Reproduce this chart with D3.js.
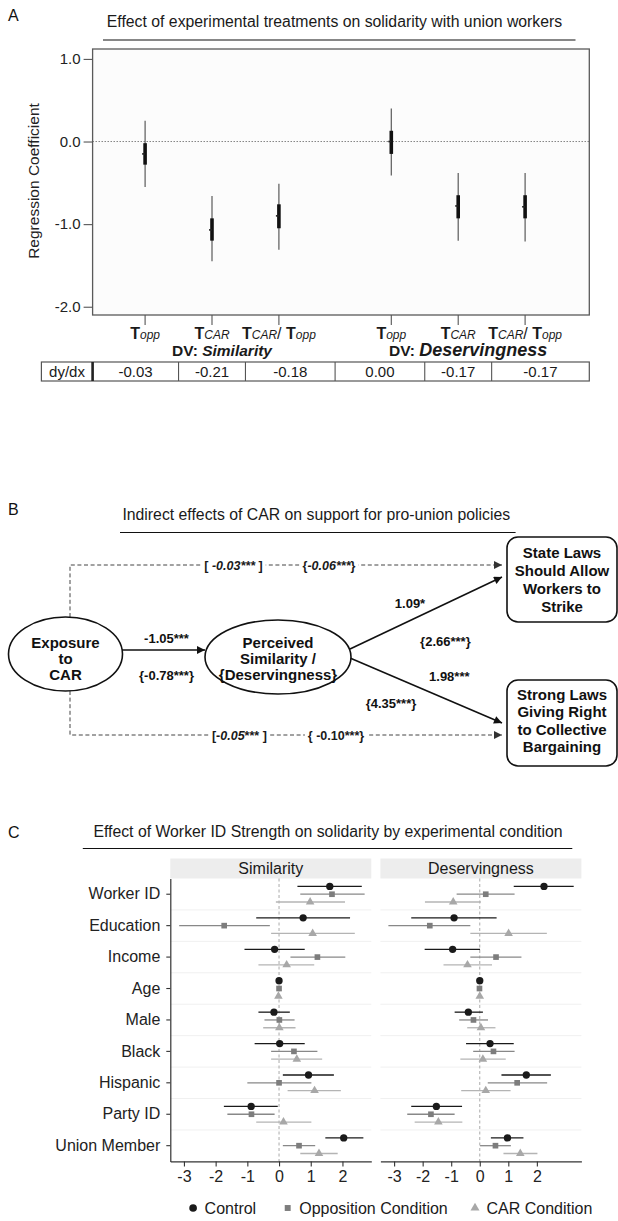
<!DOCTYPE html>
<html>
<head>
<meta charset="utf-8">
<script src="https://cdn.jsdelivr.net/npm/d3@7/dist/d3.min.js"></script>
<style>
  html,body{margin:0;padding:0;background:#ffffff;}
  svg{display:block;}
  text{font-family:"Liberation Sans", Arial, Helvetica, sans-serif; white-space:pre;}
</style>
</head>
<body>
<svg id="fig" width="618" height="1221"></svg>
<script>
// ================= DATA =================
// ---- Panel A ----
const aTitle = "Effect of experimental treatments on solidarity with union workers";
const aGroups = ["Similarity", "Deservingness"];
const aTreatments = ["opp", "CAR", "CAR/opp"];
const aGroupOf = ["Similarity","Similarity","Similarity","Deservingness","Deservingness","Deservingness"];
const aTreatOf = ["opp","CAR","CAR/opp","opp","CAR","CAR/opp"];
const aEstimate = [-0.15, -1.07, -0.90, 0.00, -0.78, -0.79];
const aSeLow    = [-0.28, -1.20, -1.05, -0.15, -0.93, -0.93];
const aSeHigh   = [-0.02, -0.93, -0.76,  0.13, -0.65, -0.65];
const aCiLow    = [-0.55, -1.45, -1.31, -0.41, -1.20, -1.21];
const aCiHigh   = [ 0.25, -0.66, -0.51,  0.40, -0.38, -0.38];
const aYTicks = [1.0, 0.0, -1.0, -2.0];
const aDyDx = ["-0.03", "-0.21", "-0.18", "0.00", "-0.17", "-0.17"];
const aRowLabel = "dy/dx";
const aYLabel = "Regression Coefficient";

// ---- Panel B ----
const bTitle = "Indirect effects of CAR on support for pro-union policies";
const bSource = ["Exposure", "to", "CAR"];
const bMediator = ["Perceived", "Similarity /", "{Deservingness}"];
const bOutcome1 = ["State Laws", "Should Allow", "Workers to", "Strike"];
const bOutcome2 = ["Strong Laws", "Giving Right", "to Collective", "Bargaining"];
const bPathA = ["-1.05***", "{-0.78***}"];
const bPathB1 = ["1.09*", "{2.66***}"];
const bPathB2 = ["1.98***", "{4.35***}"];
const bDirect1 = [[["[ ", ""], ["-0.03***", "i"], [" ]", ""]], [["{", ""], ["-0.06***", "i"], ["}", ""]]];
const bDirect2 = [[["[-", ""], ["0.05", "i"], ["*** ]", ""]], [["{ -0.10***}", ""]]];

// ---- Panel C ----
const cTitle = "Effect of Worker ID Strength on solidarity by experimental condition";
const cVariables = ["Worker ID","Education","Income","Age","Male","Black","Hispanic","Party ID","Union Member"];
const cConditions = ["Control","Opposition Condition","CAR Condition"];
const cFacets = ["Similarity","Deservingness"];
const cXTicks = [-3,-2,-1,0,1,2];
// Similarity facet
const simCtl   = [1.60, 0.76, -0.14, 0.00, -0.16, 0.02, 0.93, -0.88, 2.04];
const simCtlLo = [0.58, -0.72, -1.09, -0.03, -0.65, -0.77, 0.12, -1.74, 1.46];
const simCtlHi = [2.61, 2.24, 0.81, 0.03, 0.34, 0.81, 1.73, -0.04, 2.66];
const simOpp   = [1.67, -1.73, 1.21, 0.00, 0.01, 0.47, 0.00, -0.87, 0.63];
const simOppLo = [0.67, -3.15, 0.36, -0.03, -0.46, -0.25, -1.00, -1.63, 0.12];
const simOppHi = [2.70, -0.29, 2.09, 0.03, 0.49, 1.21, 1.02, -0.14, 1.14];
const simCar   = [0.98, 1.06, 0.24, -0.02, 0.01, 0.56, 1.12, 0.14, 1.26];
const simCarLo = [-0.10, -0.25, -0.65, -0.05, -0.50, -0.25, 0.27, -0.72, 0.67];
const simCarHi = [2.08, 2.39, 1.11, 0.01, 0.52, 1.36, 1.95, 1.02, 1.85];
// Deservingness facet
const desCtl   = [2.25, -0.90, -0.95, 0.00, -0.40, 0.36, 1.63, -1.52, 0.97];
const desCtlLo = [1.19, -2.40, -1.93, -0.03, -0.88, -0.48, 0.76, -2.40, 0.39];
const desCtlHi = [3.29, 0.59, 0.01, 0.03, 0.11, 1.19, 2.49, -0.62, 1.53];
const desOpp   = [0.21, -1.75, 0.57, -0.01, -0.22, 0.48, 1.31, -1.71, 0.55];
const desOppLo = [-0.81, -3.20, -0.33, -0.04, -0.72, -0.23, 0.28, -2.54, 0.01];
const desOppHi = [1.22, -0.33, 1.46, 0.02, 0.29, 1.22, 2.36, -0.88, 1.09];
const desCar   = [-0.93, 1.01, -0.43, 0.00, 0.04, 0.11, 0.21, -1.45, 1.42];
const desCarLo = [-1.92, -0.33, -1.27, -0.03, -0.44, -0.68, -0.65, -2.28, 0.83];
const desCarHi = [0.04, 2.35, 0.43, 0.03, 0.55, 0.91, 1.08, -0.61, 2.02];

// ================= DRAWING =================
const FONT = '"Liberation Sans", Arial, Helvetica, sans-serif';
const svg = d3.select("#fig");
svg.append("rect").attr("width", 618).attr("height", 1221).attr("fill", "#ffffff");

function rich(g, x, y, segs, o) {
  const t = g.append("text").attr("x", x).attr("y", y)
    .attr("text-anchor", o.anchor || "middle")
    .attr("font-size", o.size).attr("font-weight", o.weight || "normal")
    .attr("fill", o.fill || "#111");
  segs.forEach(([s, st]) => {
    const ts = t.append("tspan").text(s);
    if (st.includes("i")) ts.attr("font-style", "italic");
    if (st.includes("b")) ts.attr("font-weight", "bold");
    if (st.includes("s")) ts.attr("font-size", o.sub);
    if (st.includes("L")) ts.attr("font-size", o.large);
  });
  return t;
}
function plain(g, x, y, s, size, o = {}) {
  return g.append("text").attr("x", x).attr("y", y).attr("text-anchor", o.anchor || "middle")
    .attr("font-size", size).attr("font-weight", o.weight || "normal").attr("fill", o.fill || "#111").text(s);
}

// panel letters
plain(svg, 8, 21, "A", 16, {anchor: "start"});
plain(svg, 8, 515, "B", 16, {anchor: "start"});
plain(svg, 8, 838, "C", 16, {anchor: "start"});

// ---------- Panel A ----------
const gA = svg.append("g");
plain(gA, 334.5, 27, aTitle, 15.8, {fill: "#1a1a1a"});
gA.append("line").attr("x1", 103).attr("x2", 575.5).attr("y1", 40).attr("y2", 40).attr("stroke", "#111").attr("stroke-width", 1.2);

const A = {left: 92.6, right: 589.3, top: 49, bottom: 315};
const yA = d3.scaleLinear().domain([-2.1, 1.12]).range([A.bottom, A.top]);
const gOuter = d3.scaleBand().domain(aGroups).range([88.9, 581.3]);
const gInner = d3.scalePoint().domain(aTreatments).range([0, gOuter.bandwidth()]).padding(0.84);
const xA = i => gOuter(aGroupOf[i]) + gInner(aTreatOf[i]);
const idxA = d3.range(aEstimate.length);

gA.append("rect").attr("x", A.left).attr("y", A.top).attr("width", A.right - A.left).attr("height", A.bottom - A.top)
  .attr("fill", "#fcfcfc").attr("stroke", "#5a5a5a").attr("stroke-width", 1.3);
gA.append("line").attr("x1", A.left).attr("x2", A.right).attr("y1", yA(0)).attr("y2", yA(0))
  .attr("stroke", "#666").attr("stroke-width", 1).attr("stroke-dasharray", "1.2,1.8");

const axA = gA.append("g").attr("transform", `translate(${A.left},0)`)
  .call(d3.axisLeft(yA).tickValues(aYTicks).tickSize(9).tickPadding(3).tickFormat(d => d.toFixed(1)));
axA.select(".domain").remove();
axA.selectAll(".tick line").attr("stroke", "#555").attr("stroke-width", 1.1);
axA.selectAll(".tick text").attr("font-size", 15).attr("font-family", FONT).attr("fill", "#222");

plain(gA, 0, 0, aYLabel, 15.5, {fill: "#222"}).attr("transform", "translate(39,181) rotate(-90)");

gA.selectAll(".ci").data(idxA).join("line").attr("class", "ci")
  .attr("x1", xA).attr("x2", xA).attr("y1", i => yA(aCiLow[i])).attr("y2", i => yA(aCiHigh[i]))
  .attr("stroke", "#5a5a5a").attr("stroke-width", 1.2);
gA.selectAll(".se").data(idxA).join("line").attr("class", "se")
  .attr("x1", xA).attr("x2", xA).attr("y1", i => yA(aSeLow[i])).attr("y2", i => yA(aSeHigh[i]))
  .attr("stroke", "#111").attr("stroke-width", 3.6);
gA.selectAll(".pt").data(idxA).join("line").attr("class", "pt")
  .attr("x1", i => xA(i) - 3).attr("x2", xA).attr("y1", i => yA(aEstimate[i])).attr("y2", i => yA(aEstimate[i]))
  .attr("stroke", "#222").attr("stroke-width", 1.6);

gA.selectAll(".xt").data(idxA).join("line").attr("class", "xt")
  .attr("x1", xA).attr("x2", xA).attr("y1", A.bottom).attr("y2", A.bottom + 10)
  .attr("stroke", "#555").attr("stroke-width", 1.1);

const treatSegs = {
  "opp": [["T", "b"], ["opp", "is"]],
  "CAR": [["T", "b"], ["CAR", "is"]],
  "CAR/opp": [["T", "b"], ["CAR", "is"], ["/ ", ""], ["T", "b"], ["opp", "is"]]
};
idxA.forEach(i => rich(gA, xA(i), 339, treatSegs[aTreatOf[i]], {size: 16, sub: 12, fill: "#1a1a1a"}));

aGroups.forEach(g => {
  rich(gA, gOuter(g) + gOuter.bandwidth() / 2 + 10, 356,
    [["DV: ", "b"], [g, g === "Deservingness" ? "biL" : "bi"]],
    {size: 15.5, large: 18, fill: "#1a1a1a"});
});

// table row
const T = {left: 41.4, right: A.right, top: 362, bottom: 381};
gA.append("rect").attr("x", T.left).attr("y", T.top).attr("width", T.right - T.left).attr("height", T.bottom - T.top)
  .attr("fill", "#fff").attr("stroke", "#555").attr("stroke-width", 1.2);
const seps = [A.left].concat(idxA.slice(0, -1).map(i => (xA(i) + xA(i + 1)) / 2)).concat([T.right]);
seps.slice(0, -1).forEach((s, k) => {
  gA.append("line").attr("x1", s).attr("x2", s).attr("y1", T.top).attr("y2", T.bottom)
    .attr("stroke", k === 0 ? "#222" : "#555").attr("stroke-width", k === 0 ? 2.6 : 1.1);
});
plain(gA, (T.left + A.left) / 2, 377, aRowLabel, 15, {fill: "#1a1a1a"});
aDyDx.forEach((v, i) => plain(gA, (seps[i] + seps[i + 1]) / 2, 377, v, 15, {fill: "#1a1a1a"}));

// ---------- Panel B ----------
const gB = svg.append("g");
plain(gB, 316.3, 520, bTitle, 15.8, {fill: "#1a1a1a"});
gB.append("line").attr("x1", 120).attr("x2", 515.6).attr("y1", 532.5).attr("y2", 532.5).attr("stroke", "#111").attr("stroke-width", 1.2);

const defs = svg.append("defs");
function marker(id, color) {
  defs.append("marker").attr("id", id).attr("viewBox", "0 0 10 10").attr("refX", 10).attr("refY", 5)
    .attr("markerWidth", 10).attr("markerHeight", 8).attr("markerUnits", "userSpaceOnUse").attr("orient", "auto")
    .append("path").attr("d", "M0,0 L10,5 L0,10 Z").attr("fill", color);
}
marker("arrS", "#111");
marker("arrD", "#333");

const LB = {
  src: {cx: 65.5, cy: 654, rx: 57, ry: 37},
  med: {cx: 278, cy: 657, rx: 73, ry: 37},
  box1: {x: 507, y: 537, w: 110, h: 85},
  box2: {x: 507, y: 680, w: 110, h: 86},
  topY: 565, botY: 735, dashX: 70, tipX: 502
};

// dashed direct paths
gB.append("path").attr("d", `M${LB.dashX},${LB.src.cy - LB.src.ry} V${LB.topY} H${LB.tipX}`)
  .attr("fill", "none").attr("stroke", "#444").attr("stroke-width", 1).attr("stroke-dasharray", "4,2.6").attr("marker-end", "url(#arrD)");
gB.append("path").attr("d", `M${LB.dashX},${LB.src.cy + LB.src.ry} V${LB.botY} H${LB.tipX}`)
  .attr("fill", "none").attr("stroke", "#444").attr("stroke-width", 1).attr("stroke-dasharray", "4,2.6").attr("marker-end", "url(#arrD)");

function bgLabel(x, y, segs) {
  const t = rich(gB, x, y, segs, {size: 12.5, weight: "bold", fill: "#1a1a1a"});
  const bb = t.node().getBBox();
  gB.insert("rect", () => t.node()).attr("x", bb.x - 3).attr("y", bb.y).attr("width", bb.width + 6).attr("height", bb.height).attr("fill", "#fff");
}
bgLabel(233.5, LB.topY + 4.5, bDirect1[0]);
bgLabel(329, LB.topY + 4.5, bDirect1[1]);
bgLabel(239.4, LB.botY + 4.5, bDirect2[0]);
bgLabel(336, LB.botY + 4.5, bDirect2[1]);

// solid paths
gB.append("line").attr("x1", LB.src.cx + LB.src.rx - 0.5).attr("y1", 650).attr("x2", 205).attr("y2", 650)
  .attr("stroke", "#111").attr("stroke-width", 1.6).attr("marker-end", "url(#arrS)");
gB.append("line").attr("x1", 350).attr("y1", 649).attr("x2", LB.tipX).attr("y2", 577)
  .attr("stroke", "#111").attr("stroke-width", 1.6).attr("marker-end", "url(#arrS)");
gB.append("line").attr("x1", 350).attr("y1", 658).attr("x2", LB.tipX).attr("y2", 723)
  .attr("stroke", "#111").attr("stroke-width", 1.6).attr("marker-end", "url(#arrS)");

// nodes
[LB.src, LB.med].forEach(e => gB.append("ellipse").attr("cx", e.cx).attr("cy", e.cy).attr("rx", e.rx).attr("ry", e.ry)
  .attr("fill", "#fff").attr("stroke", "#111").attr("stroke-width", 1.6));
[LB.box1, LB.box2].forEach(b => gB.append("rect").attr("x", b.x).attr("y", b.y).attr("width", b.w).attr("height", b.h)
  .attr("rx", 11).attr("ry", 11).attr("fill", "#fff").attr("stroke", "#111").attr("stroke-width", 1.6));

bSource.forEach((s, k) => plain(gB, LB.src.cx, 648 + k * 16, s, 15, {weight: "bold"}));
bMediator.forEach((s, k) => plain(gB, LB.med.cx, 648 + k * 16, s, 15, {weight: "bold"}));
bOutcome1.forEach((s, k) => plain(gB, LB.box1.x + LB.box1.w / 2, 558 + k * 18, s, 15, {weight: "bold"}));
bOutcome2.forEach((s, k) => plain(gB, LB.box2.x + LB.box2.w / 2, 700 + k * 17.4, s, 15, {weight: "bold"}));

plain(gB, 166.5, 642.5, bPathA[0], 13, {weight: "bold"});
plain(gB, 166.5, 679.5, bPathA[1], 13, {weight: "bold"});
plain(gB, 410, 607.5, bPathB1[0], 13, {weight: "bold"});
plain(gB, 445.4, 646, bPathB1[1], 13, {weight: "bold"});
plain(gB, 449.3, 681, bPathB2[0], 13, {weight: "bold"});
plain(gB, 391, 707.5, bPathB2[1], 13, {weight: "bold"});

// ---------- Panel C ----------
const gC = svg.append("g");
plain(gC, 328, 836.5, cTitle, 15.8, {fill: "#1a1a1a"});
gC.append("line").attr("x1", 82.8).attr("x2", 572.3).attr("y1", 848.5).attr("y2", 848.5).attr("stroke", "#111").attr("stroke-width", 1.2);

const C = {stripTop: 858.5, top: 878.5, bottom: 1161.4};
const yC = d3.scaleBand().domain(cVariables).range([C.top, C.bottom]);
const dodge = d3.scalePoint().domain(cConditions).range([-7.8, 7.8]);
const condStyle = {
  "Control": {fill: "#1a1a1a", line: "#1a1a1a", sym: d3.symbolCircle, size: 42},
  "Opposition Condition": {fill: "#7d7d7d", line: "#888888", sym: d3.symbolSquare, size: 32},
  "CAR Condition": {fill: "#a8a8a8", line: "#b4b4b4", sym: d3.symbolTriangle, size: 32}
};
const facetDefs = [
  {name: "Similarity", x0: 170.3, x1: 371.3, domain: [-3.43, 2.91],
   series: {"Control": [simCtl, simCtlLo, simCtlHi], "Opposition Condition": [simOpp, simOppLo, simOppHi], "CAR Condition": [simCar, simCarLo, simCarHi]}},
  {name: "Deservingness", x0: 380.4, x1: 581.4, domain: [-3.48, 3.56],
   series: {"Control": [desCtl, desCtlLo, desCtlHi], "Opposition Condition": [desOpp, desOppLo, desOppHi], "CAR Condition": [desCar, desCarLo, desCarHi]}}
];

facetDefs.forEach(f => {
  const x = d3.scaleLinear().domain(f.domain).range([f.x0, f.x1]);
  const g = gC.append("g");
  g.append("rect").attr("x", f.x0).attr("y", C.stripTop).attr("width", f.x1 - f.x0).attr("height", C.top - C.stripTop).attr("fill", "#ededed");
  plain(g, (f.x0 + f.x1) / 2, 874, f.name, 16, {fill: "#1a1a1a"});
  cVariables.slice(1).forEach(v => g.append("line").attr("x1", f.x0).attr("x2", f.x1).attr("y1", yC(v)).attr("y2", yC(v))
    .attr("stroke", "#f0f0f0").attr("stroke-width", 1));
  g.append("line").attr("x1", x(0)).attr("x2", x(0)).attr("y1", C.top).attr("y2", C.bottom)
    .attr("stroke", "#a0a0a0").attr("stroke-width", 0.9).attr("stroke-dasharray", "3,2.5");
  cConditions.forEach(c => {
    const [est, lo, hi] = f.series[c];
    const st = condStyle[c];
    const yy = i => yC(cVariables[i]) + yC.bandwidth() / 2 + dodge(c);
    const idx = d3.range(cVariables.length);
    g.selectAll(null).data(idx).join("line")
      .attr("x1", i => x(lo[i])).attr("x2", i => x(hi[i])).attr("y1", yy).attr("y2", yy)
      .attr("stroke", st.line).attr("stroke-width", 1.3);
    g.selectAll(null).data(idx).join("path")
      .attr("d", d3.symbol().type(st.sym).size(st.size))
      .attr("transform", i => `translate(${x(est[i])},${yy(i)})`).attr("fill", st.fill);
  });
  const ax = g.append("g").attr("transform", `translate(0,${C.bottom})`)
    .call(d3.axisBottom(x).tickValues(cXTicks).tickSize(5).tickSizeOuter(0).tickPadding(4).tickFormat(d => String(d)));
  ax.select(".domain").attr("stroke", "#333").attr("stroke-width", 1.2);
  ax.selectAll(".tick line").attr("stroke", "#333").attr("stroke-width", 1.1);
  ax.selectAll(".tick text").attr("font-size", 16).attr("font-family", FONT).attr("fill", "#222");
});
// y axis (left facet)
const yAx = gC.append("g").attr("transform", `translate(${facetDefs[0].x0},0)`)
  .call(d3.axisLeft(yC).tickSize(4).tickSizeOuter(0).tickPadding(6));
yAx.select(".domain").attr("stroke", "#333").attr("stroke-width", 1.2);
yAx.selectAll(".tick line").attr("stroke", "#333").attr("stroke-width", 1.1);
yAx.selectAll(".tick text").attr("font-size", 16).attr("font-family", FONT).attr("fill", "#222");

// legend
const legendX = {"Control": 193.1, "Opposition Condition": 287.7, "CAR Condition": 475};
cConditions.forEach(c => {
  const st = condStyle[c];
  gC.append("path").attr("d", d3.symbol().type(st.sym).size(st.size * 1.1))
    .attr("transform", `translate(${legendX[c]},1208)`).attr("fill", st.fill);
  plain(gC, legendX[c] + 11.5, 1213.5, c, 16, {anchor: "start", fill: "#1a1a1a"});
});
</script>
</body>
</html>
